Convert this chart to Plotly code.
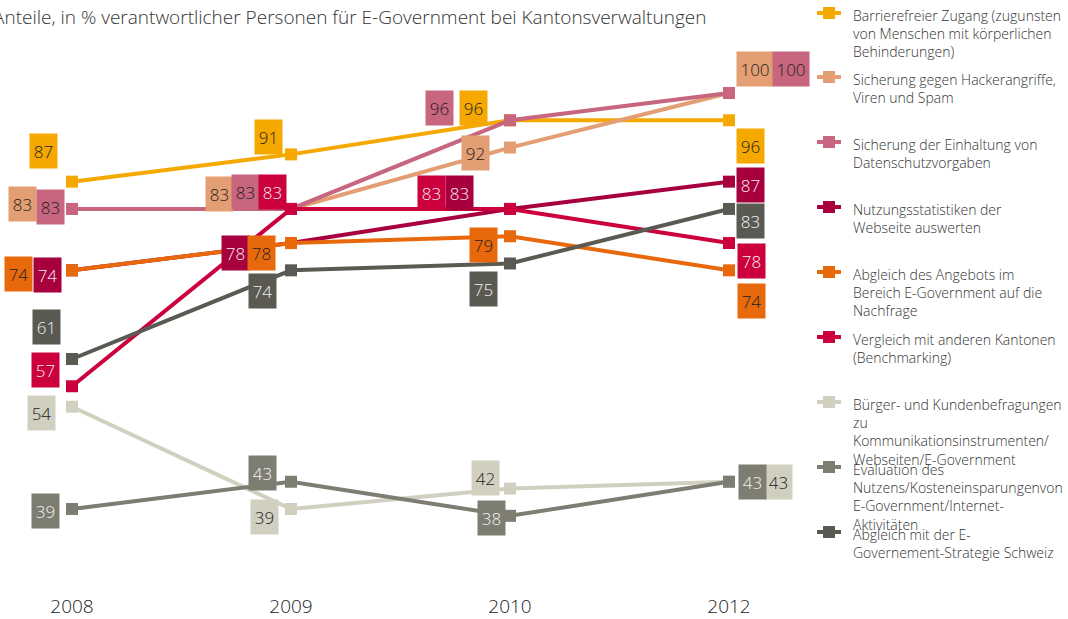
import plotly.graph_objects as go

# ---------------- data ----------------
years = ["2008", "2009", "2010", "2012"]

barrierefrei = [87, 91, 96, 96]
hacker = [83, 83, 92, 100]
datenschutz = [83, 83, 96, 100]
nutzung = [74, 78, 83, 87]
angebot = [74, 78, 79, 74]
vergleich = [57, 83, 83, 78]
buerger = [54, 39, 42, 43]
evaluation = [39, 43, 38, 43]
strategie = [61, 74, 75, 83]

legend_texts = [
    "Barrierefreier Zugang (zugunsten<br>von Menschen mit körperlichen<br>Behinderungen)",
    "Sicherung gegen Hackerangriffe,<br>Viren und Spam",
    "Sicherung der Einhaltung von<br>Datenschutzvorgaben",
    "Nutzungsstatistiken der<br>Webseite auswerten",
    "Abgleich des Angebots im<br>Bereich E-Government auf die<br>Nachfrage",
    "Vergleich mit anderen Kantonen<br>(Benchmarking)",
    "Bürger- und Kundenbefragungen<br>zu<br>Kommunikationsinstrumenten/<br>Webseiten/E-Government",
    "Evaluation des<br>Nutzens/Kosteneinsparungenvon<br>E-Government/Internet-<br>Aktivitäten",
    "Abgleich mit der E-<br>Governement-Strategie Schweiz",
]

title_text = "Anteile, in % verantwortlicher Personen für E-Government bei Kantonsverwaltungen"

series_values = [barrierefrei, hacker, datenschutz, nutzung, angebot,
                 vergleich, buerger, evaluation, strategie]

# ---------------- styles ----------------
colors = ["#F5A800", "#E39E73", "#C8657F", "#A8003F", "#E8690B",
          "#CC003D", "#D1D0C0", "#7E7D72", "#5A5A52"]
label_font_colors = ["#222", "#222", "#222", "#F2F2F2", "#222",
                     "#F2F2F2", "#222", "#F2F2F2", "#F2F2F2"]
# label offsets in pixels (dx right, dy up) per series, per year
label_offsets = [
    [(-29, 31), (-23, 17), (-37, 12), (21, -26)],
    [(-50, 5), (-72, 15), (-35, -5), (26, 24)],
    [(-22, 2), (-46, 17), (-71, 12), (62, 24)],
    [(-25, -5), (-56, -10), (-51, 16), (21, -3)],
    [(-54, -4), (-30, -10), (-27, -9), (22, -31)],
    [(-27, 16), (-19, 17), (-79, 16), (22, -18)],
    [(-31, -6), (-27, -8), (-25, 11), (49, 0)],
    [(-27, -2), (-29, 9), (-19, -2), (23, 0)],
    [(-26, 32), (-29, -21), (-27, -25), (21, -12)],
]

FONT = "Open Sans"
W, H = 1068, 619
ML, MR, MT, MB = 0, 268, 40, 29
PW, PH = W - ML - MR, H - MT - MB


def paper_x(px):
    return (px - ML) / PW


def paper_y(py):
    return (H - MB - py) / PH


fig = go.Figure()

for vals, col in zip(series_values, colors):
    fig.add_trace(go.Scatter(
        x=years, y=vals, mode="lines+markers",
        line=dict(color=col, width=4),
        marker=dict(symbol="square", size=12, color=col),
        showlegend=False, hoverinfo="skip",
    ))

annotations = []
for vals, col, fcol, offs in zip(series_values, colors, label_font_colors, label_offsets):
    for i, (v, (dx, dy)) in enumerate(zip(vals, offs)):
        annotations.append(dict(
            x=i, y=v, xref="x", yref="y", text=str(v), showarrow=False,
            xshift=dx, yshift=dy, bgcolor=col,
            width=34 if v >= 100 else 25, height=32,
            font=dict(family=FONT, size=17, color=fcol, weight=300),
            align="center", valign="middle",
        ))

# title
annotations.append(dict(
    x=paper_x(-9), y=paper_y(17), xref="paper", yref="paper",
    xanchor="left", yanchor="middle", text=title_text, showarrow=False,
    font=dict(family=FONT, size=19, color="#333", weight=300),
))

# manual legend
legend_y = [13, 77, 142, 207, 272, 337, 402, 467, 532]
shapes = []
for txt, col, ly in zip(legend_texts, colors, legend_y):
    shapes.append(dict(type="line", xref="paper", yref="paper",
                       x0=paper_x(817), x1=paper_x(841), y0=paper_y(ly), y1=paper_y(ly),
                       line=dict(color=col, width=4)))
    shapes.append(dict(type="rect", xref="paper", yref="paper",
                       x0=paper_x(823), x1=paper_x(835), y0=paper_y(ly - 6), y1=paper_y(ly + 6),
                       line=dict(width=0), fillcolor=col))
    annotations.append(dict(
        x=paper_x(851), y=paper_y(ly - 9), xref="paper", yref="paper",
        xanchor="left", yanchor="top", align="left", text=txt, showarrow=False,
        font=dict(family=FONT, size=14, color="#333", weight=300),
    ))

x0 = 72
step = 219
fig.update_layout(
    width=W, height=H,
    margin=dict(l=ML, r=MR, t=MT, b=MB),
    paper_bgcolor="white", plot_bgcolor="white",
    xaxis=dict(type="category", range=[(ML - x0) / step, (ML + PW - x0) / step],
               showgrid=False, zeroline=False, showline=False, ticks="",
               tickfont=dict(family=FONT, size=19, color="#222", weight=300),
               ticklabelstandoff=3),
    yaxis=dict(range=[(775 - (H - MB)) / 6.82, (775 - MT) / 6.82],
               showgrid=False, zeroline=False, showline=False,
               showticklabels=False, ticks=""),
    annotations=annotations, shapes=shapes,
    showlegend=False,
)

fig.write_html("out.html", config={"displayModeBar": False},
               post_script="document.body.style.margin='0';")
